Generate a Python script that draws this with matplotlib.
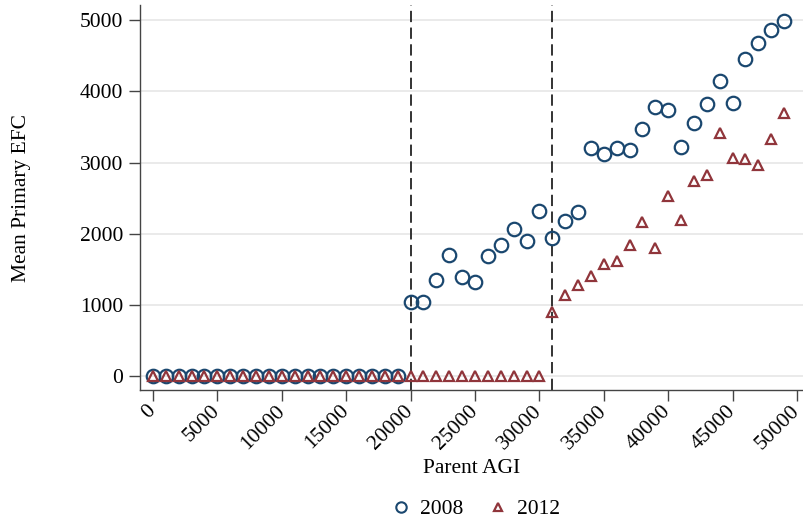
import matplotlib
matplotlib.use('Agg')
import matplotlib.pyplot as plt
from matplotlib.lines import Line2D

# Parent AGI bins (lower edge of each $1000 bin)
agi = list(range(0, 50000, 1000))

# mean primary EFC by AGI bin, 2008 cohort
efc_2008 = [0] * 20 + [
    1035, 1045, 1355, 1705, 1395, 1325, 1690, 1845, 2065, 1900,
    2315, 1940, 2180, 2305, 3200, 3115, 3210, 3170, 3465, 3775,
    3745, 3225, 3560, 3825, 4150, 3840, 4455, 4680, 4860, 4985,
]

# mean primary EFC by AGI bin, 2012 cohort
efc_2012 = [0] * 31 + [
    895, 1145, 1285, 1410, 1580, 1620, 1845, 2165, 1800, 2530,
    2195, 2740, 2820, 3410, 3070, 3055, 2960, 3325, 3700,
]

# auto-zero EFC thresholds
cutoffs = [20000, 31000]

xticks = list(range(0, 50001, 5000))
yticks = [0, 1000, 2000, 3000, 4000, 5000]

navy = '#1a476f'
maroon = '#90353b'
fs = 15.5

plt.rcParams['font.family'] = ['Liberation Serif', 'DejaVu Serif']

fig = plt.figure(figsize=(8.04, 5.25), dpi=100)
ax = fig.add_axes([0.1741, 0.257, 0.8259, 0.733])

ax.plot(agi, efc_2008, linestyle='none', marker='o', markersize=9.7,
        markerfacecolor='none', markeredgecolor=navy, markeredgewidth=1.6,
        zorder=3)
ax.plot(agi, efc_2012, linestyle='none', marker='^', markersize=6.5,
        markerfacecolor='none', markeredgecolor=maroon, markeredgewidth=1.6,
        zorder=3)

for c in cutoffs:
    ax.axvline(c, color='#333333', linestyle=(0, (5.8, 2.8)), linewidth=1.4, zorder=2)

ax.set_xlim(-1009, 50543)
ax.set_ylim(-197, 5211)
ax.set_xticks(xticks)
ax.set_xticklabels([str(t) for t in xticks], rotation=45, ha='right',
                   va='center', rotation_mode='anchor')
ax.set_yticks(yticks)
ax.grid(axis='y', color='#e8e8e8', linewidth=1.3, zorder=0)
ax.set_axisbelow(True)

for s in ['top', 'right']:
    ax.spines[s].set_visible(False)
for s in ['left', 'bottom']:
    ax.spines[s].set_color('#444444')
    ax.spines[s].set_linewidth(1.0)
ax.tick_params(axis='both', direction='out', length=8, width=1.0,
               color='#444444', labelsize=fs)
ax.tick_params(axis='y', pad=4)
ax.tick_params(axis='x', pad=5)

ax.set_xlabel('Parent AGI', fontsize=fs, labelpad=4)
ax.set_ylabel('Mean Primary EFC', fontsize=fs, labelpad=35)

handles = [
    Line2D([], [], linestyle='none', marker='o', markersize=7.5,
           markerfacecolor='none', markeredgecolor=navy, markeredgewidth=1.5),
    Line2D([], [], linestyle='none', marker='^', markersize=6,
           markerfacecolor='none', markeredgecolor=maroon, markeredgewidth=1.6),
]
fig.legend(handles, ['2008', '2012'], loc='center', bbox_to_anchor=(0.588, 0.03),
           ncol=2, frameon=False, fontsize=fs, handletextpad=0.2,
           handlelength=1.4, columnspacing=0.9)

fig.savefig('out.png', dpi=100)
